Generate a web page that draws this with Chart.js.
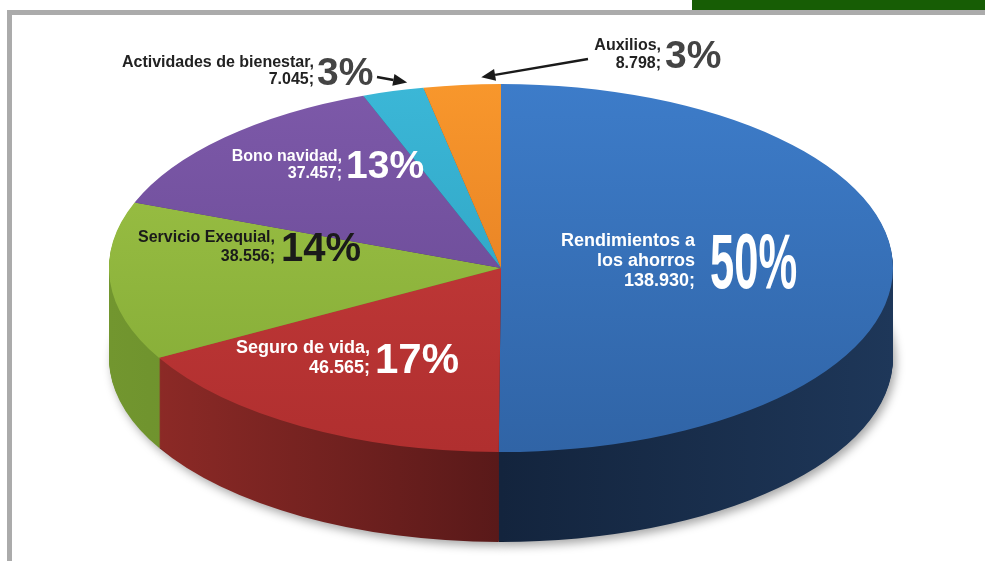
<!DOCTYPE html>
<html>
<head>
<meta charset="utf-8">
<script src="https://cdn.jsdelivr.net/npm/chart.js@4.4.1/dist/chart.umd.min.js"></script>
<style>
  html, body { margin: 0; padding: 0; background: #fff; overflow: hidden; }
  #wrap { position: relative; width: 985px; height: 561px; }
  #greenbar { position: absolute; left: 692px; top: 0; width: 293px; height: 10px; background: #175d05; }
  #frameTop { position: absolute; left: 7px; top: 10px; width: 978px; height: 5px; background: #ababab; }
  #frameLeft { position: absolute; left: 7px; top: 10px; width: 5px; height: 551px; background: #ababab; }
  canvas { position: absolute; left: 0; top: 0; }
</style>
</head>
<body>
<div id="wrap">
  <div id="greenbar"></div>
  <div id="frameTop"></div>
  <div id="frameLeft"></div>
  <canvas id="pie" width="985" height="561"></canvas>
</div>
<script>
// data (clockwise from 12 o'clock)
const categories = ["Rendimientos a los ahorros", "Seguro de vida", "Servicio Exequial", "Bono navidad", "Actividades de bienestar", "Auxilios"];
const amounts = [138930, 46565, 38556, 37457, 7045, 8798];

// look
const topColors = [["#3d7cc9", "#3064a6"], ["#c93d3c", "#b02f2f"], ["#9fc447", "#82a935"], ["#7d59a9", "#644690"], ["#3bb7d7", "#2a9bba"], ["#f8972c", "#dc7420"]];
const sideColors = [["#1e3759", "#13243d"], ["#932c28", "#591919"], ["#72962f", "#5f8226"], ["#4d3670", "#3f2c5c"], ["#1f7d96", "#1a6b80"], ["#b45a18", "#9c4d14"]];
const PIE = { rx: 392, ry: 184, depth: 90 };

// label placement, offsets from the pie centre (name right edge / last baseline)
const labelLayout = [
  { dx: 194, dy: 18, pctDx: 209, pctDy: 20, size: 18, lh: 20, pctSize: 77, pctScale: 0.565, wrap: 140, sep: "", color: "#fff", pctColor: "#fff" },
  { dx: -131, dy: 105, pctDx: -126, pctDy: 105, size: 18, lh: 20, pctSize: 42, pctScale: 1, wrap: 999, sep: ",", color: "#fff", pctColor: "#fff" },
  { dx: -226, dy: -7, pctDx: -220, pctDy: -7, size: 16, lh: 19, pctSize: 40, pctScale: 1, wrap: 999, sep: ",", color: "#1a1a1a", pctColor: "#1a1a1a" },
  { dx: -159, dy: -90, pctDx: -155, pctDy: -90, size: 16, lh: 17, pctSize: 39, pctScale: 1, wrap: 999, sep: ",", color: "#fff", pctColor: "#fff" },
  { dx: -187, dy: -184, pctDx: -184, pctDy: -183, size: 16, lh: 17, pctSize: 39, pctScale: 1, wrap: 999, sep: ",", color: "#222", pctColor: "#444" },
  { dx: 160, dy: -200, pctDx: 164, pctDy: -200, size: 16, lh: 18, pctSize: 39, pctScale: 1, wrap: 999, sep: ",", color: "#222", pctColor: "#444" }
];
// arrows for the thin slices: tail offset from centre, aim = where along the slice
const arrows = { 4: { tx: -124, ty: -191, aim: 0.75 }, 5: { tx: 87, ty: -209, aim: 0.75 } };

const FONT = '"Liberation Sans", Arial, sans-serif';

function fmt(v) {
  return String(v).replace(/\B(?=(\d{3})+(?!\d))/g, ".");
}

// whole percents that add up to 100
function percents(vals) {
  const total = vals.reduce((a, b) => a + b, 0);
  const raw = vals.map(v => v / total * 100);
  const out = raw.map(Math.floor);
  let left = 100 - out.reduce((a, b) => a + b, 0);
  const order = raw.map((v, i) => [v - Math.floor(v), i]).sort((a, b) => b[0] - a[0]);
  for (let k = 0; k < left; k++) out[order[k][1]]++;
  return out;
}
const pcts = percents(amounts);

function wrapText(ctx, text, maxW) {
  const words = text.split(" ");
  const lines = [];
  let cur = "";
  words.forEach(w => {
    const test = cur ? cur + " " + w : w;
    if (cur && ctx.measureText(test).width > maxW) {
      lines.push(cur);
      cur = w;
    } else {
      cur = test;
    }
  });
  lines.push(cur);
  return lines;
}

let sideGrads = null;

const pie3d = {
  id: "pie3d",
  beforeDatasetsDraw(chart) {
    const ctx = chart.ctx;
    const arcs = chart.getDatasetMeta(0).data;
    const cx = arcs[0].x, cy = arcs[0].y, r = arcs[0].outerRadius;
    const sx = PIE.rx / r, sy = PIE.ry / r;

    ctx.save();
    ctx.translate(cx, cy);
    ctx.scale(sx, sy);
    ctx.translate(-cx, -cy);

    if (!sideGrads) {
      sideGrads = sideColors.map(c => {
        const g = ctx.createLinearGradient(cx - r, 0, cx + r, 0);
        g.addColorStop(0, c[0]);
        g.addColorStop(0.5, c[1]);
        g.addColorStop(1, c[0]);
        return g;
      });
    }

    for (let d = PIE.depth; d >= 1; d--) {
      const oy = d / sy;
      arcs.forEach((arc, i) => {
        ctx.save();
        if (d === PIE.depth) {
          ctx.shadowColor = "rgba(0,0,0,0.35)";
          ctx.shadowBlur = 10;
          ctx.shadowOffsetX = 3;
          ctx.shadowOffsetY = 4;
        }
        ctx.fillStyle = sideGrads[i];
        ctx.beginPath();
        ctx.moveTo(cx, cy + oy);
        ctx.arc(cx, cy + oy, r, arc.startAngle, arc.endAngle);
        ctx.closePath();
        ctx.fill();
        ctx.restore();
      });
    }
    // transform stays on for the top face, dropped in afterDatasetsDraw
  },
  afterDatasetsDraw(chart) {
    const ctx = chart.ctx;
    ctx.restore();

    const arcs = chart.getDatasetMeta(0).data;
    const cx = arcs[0].x, cy = arcs[0].y;

    arcs.forEach((arc, i) => {
      const L = labelLayout[i];
      ctx.save();
      ctx.font = "bold " + L.size + "px " + FONT;
      ctx.fillStyle = L.color;
      ctx.textAlign = "right";
      ctx.textBaseline = "alphabetic";
      const lines = wrapText(ctx, categories[i], L.wrap);
      lines[lines.length - 1] += L.sep;
      lines.push(fmt(amounts[i]) + ";");
      const x = cx + L.dx, yLast = cy + L.dy;
      lines.forEach((t, k) => {
        ctx.fillText(t, x, yLast - (lines.length - 1 - k) * L.lh);
      });
      ctx.font = "bold " + L.pctSize + "px " + FONT;
      ctx.fillStyle = L.pctColor;
      ctx.textAlign = "left";
      ctx.translate(cx + L.pctDx, cy + L.pctDy);
      ctx.scale(L.pctScale, 1);
      ctx.fillText(pcts[i] + "%", 0, 0);
      ctx.restore();

      const A = arrows[i];
      if (A) {
        const ang = arc.startAngle + (arc.endAngle - arc.startAngle) * A.aim;
        const tipX = cx + Math.cos(ang) * (PIE.rx + 4);
        const tipY = cy + Math.sin(ang) * (PIE.ry + 7);
        const tailX = cx + A.tx, tailY = cy + A.ty;
        const dir = Math.atan2(tipY - tailY, tipX - tailX);
        const hl = 14, hw = 6;
        const bx = tipX - Math.cos(dir) * hl, by = tipY - Math.sin(dir) * hl;
        ctx.save();
        ctx.strokeStyle = "#1a1a1a";
        ctx.fillStyle = "#1a1a1a";
        ctx.lineWidth = 2.5;
        ctx.beginPath();
        ctx.moveTo(tailX, tailY);
        ctx.lineTo(bx, by);
        ctx.stroke();
        ctx.beginPath();
        ctx.moveTo(tipX, tipY);
        ctx.lineTo(bx + Math.sin(dir) * hw, by - Math.cos(dir) * hw);
        ctx.lineTo(bx - Math.sin(dir) * hw, by + Math.cos(dir) * hw);
        ctx.closePath();
        ctx.fill();
        ctx.restore();
      }
    });
  }
};

const ctx = document.getElementById("pie").getContext("2d");
new Chart(ctx, {
  type: "pie",
  data: {
    labels: categories,
    datasets: [{
      data: amounts,
      borderWidth: 0,
      clip: false,
      backgroundColor: function(c) {
        const cols = topColors[c.dataIndex];
        const area = c.chart.chartArea;
        if (!area) return cols[0];
        const g = c.chart.ctx.createLinearGradient(0, area.top, 0, area.bottom);
        g.addColorStop(0, cols[0]);
        g.addColorStop(1, cols[1]);
        return g;
      }
    }]
  },
  options: {
    responsive: false,
    animation: false,
    events: [],
    layout: { padding: { left: 17, right: 0, top: 0, bottom: 25 } },
    plugins: { legend: { display: false }, tooltip: { enabled: false } }
  },
  plugins: [pie3d]
});
</script>
</body>
</html>
